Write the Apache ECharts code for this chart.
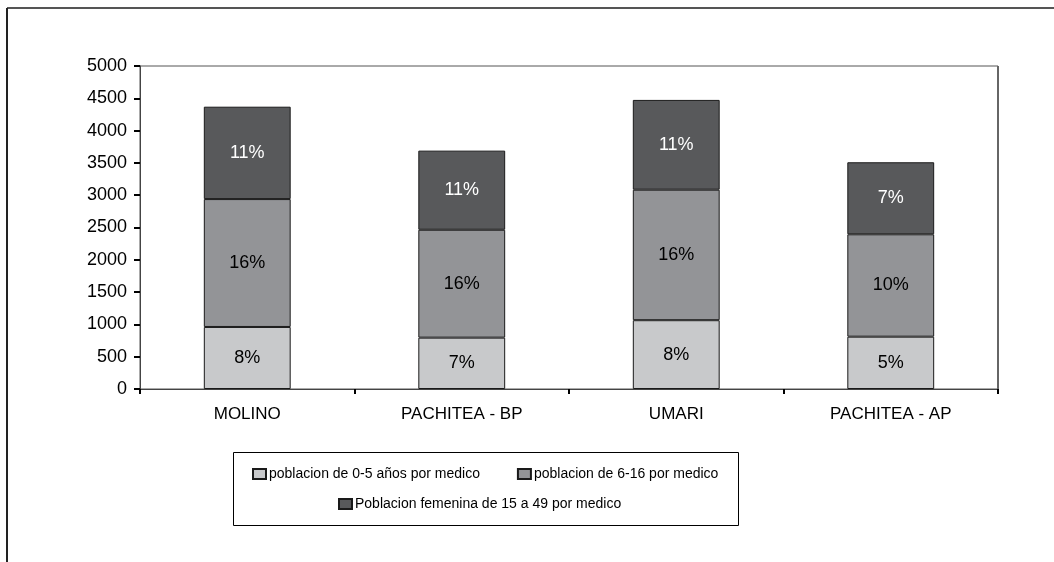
<!DOCTYPE html>
<html>
<head>
<meta charset="utf-8">
<script src="https://cdn.jsdelivr.net/npm/echarts@6/dist/echarts.min.js"></script>
<style>
html, body { margin: 0; padding: 0; background: #fff; }
#chart { width: 1054px; height: 562px; }
</style>
</head>
<body>
<div id="chart"></div>
<script>
var categories = ['MOLINO', 'PACHITEA - BP', 'UMARI', 'PACHITEA - AP'];
var yTicks = [0, 500, 1000, 1500, 2000, 2500, 3000, 3500, 4000, 4500, 5000];
var seriesNames = ['poblacion de 0-5 años por medico', 'poblacion de 6-16 por medico', 'Poblacion femenina de 15 a 49 por medico'];
var ninos = [960, 795, 1065, 810];
var escolares = [1980, 1670, 2020, 1585];
var mujeres = [1430, 1225, 1390, 1115];
var pctNinos = ['8%', '7%', '8%', '5%'];
var pctEscolares = ['16%', '16%', '16%', '10%'];
var pctMujeres = ['11%', '11%', '11%', '7%'];

var font = 'Liberation Sans, Arial, sans-serif';
var chart = echarts.init(document.getElementById('chart'));

function barSeries(name, data, pct, color, labelColor) {
    return {
        name: name,
        type: 'bar',
        stack: 'total',
        barWidth: '40.5%',
        itemStyle: { color: color, borderColor: '#1a1a1a', borderWidth: 1 },
        label: {
            show: true,
            position: 'inside',
            color: labelColor,
            fontFamily: font,
            fontSize: 18,
            formatter: function (p) { return pct[p.dataIndex]; }
        },
        data: data
    };
}

var legendText = { color: '#000', fontFamily: font, fontSize: 14, padding: [0, 0, 0, -2] };

var option = {
    animation: false,
    backgroundColor: '#fff',
    grid: {
        show: true,
        left: 140,
        right: 56,
        top: 66,
        bottom: 173,
        borderColor: '#555',
        borderWidth: 1,
        backgroundColor: 'transparent'
    },
    xAxis: {
        type: 'category',
        data: categories,
        axisLine: { lineStyle: { color: '#444', width: 1 } },
        axisTick: { show: true, length: 5, lineStyle: { color: '#000', width: 2 } },
        axisLabel: { color: '#000', fontFamily: font, fontSize: 17, margin: 17 }
    },
    yAxis: {
        type: 'value',
        min: yTicks[0],
        max: yTicks[yTicks.length - 1],
        interval: 500,
        splitLine: { show: false },
        axisLine: { show: true, lineStyle: { color: '#444', width: 1 } },
        axisTick: { show: true, length: 6, lineStyle: { color: '#000', width: 2 } },
        axisLabel: {
            color: '#000', fontFamily: font, fontSize: 18, margin: 13,
            formatter: function (v) { return String(v); }
        }
    },
    legend: [{
        data: [seriesNames[0], seriesNames[1]],
        left: 247,
        top: 462,
        icon: 'rect',
        itemWidth: 13,
        itemHeight: 10,
        itemGap: 37,
        textStyle: legendText
    }, {
        data: [seriesNames[2]],
        left: 333,
        top: 492,
        icon: 'rect',
        itemWidth: 13,
        itemHeight: 10,
        textStyle: legendText
    }],
    graphic: [
        { type: 'line', shape: { x1: 7, y1: 8, x2: 1054, y2: 8 }, style: { stroke: '#555', lineWidth: 2 } },
        { type: 'line', shape: { x1: 7, y1: 8, x2: 7, y2: 562 }, style: { stroke: '#222', lineWidth: 2 } },
        { type: 'line', shape: { x1: 998, y1: 66, x2: 998, y2: 389 }, style: { stroke: '#666', lineWidth: 2 } },
        { type: 'rect', shape: { x: 233.5, y: 452.5, width: 505, height: 73 }, style: { fill: 'none', stroke: '#000', lineWidth: 1 } }
    ],
    series: [
        barSeries(seriesNames[0], ninos, pctNinos, '#c8c9cb', '#000'),
        barSeries(seriesNames[1], escolares, pctEscolares, '#939497', '#000'),
        barSeries(seriesNames[2], mujeres, pctMujeres, '#58595b', '#fff')
    ]
};
chart.setOption(option);
</script>
</body>
</html>
